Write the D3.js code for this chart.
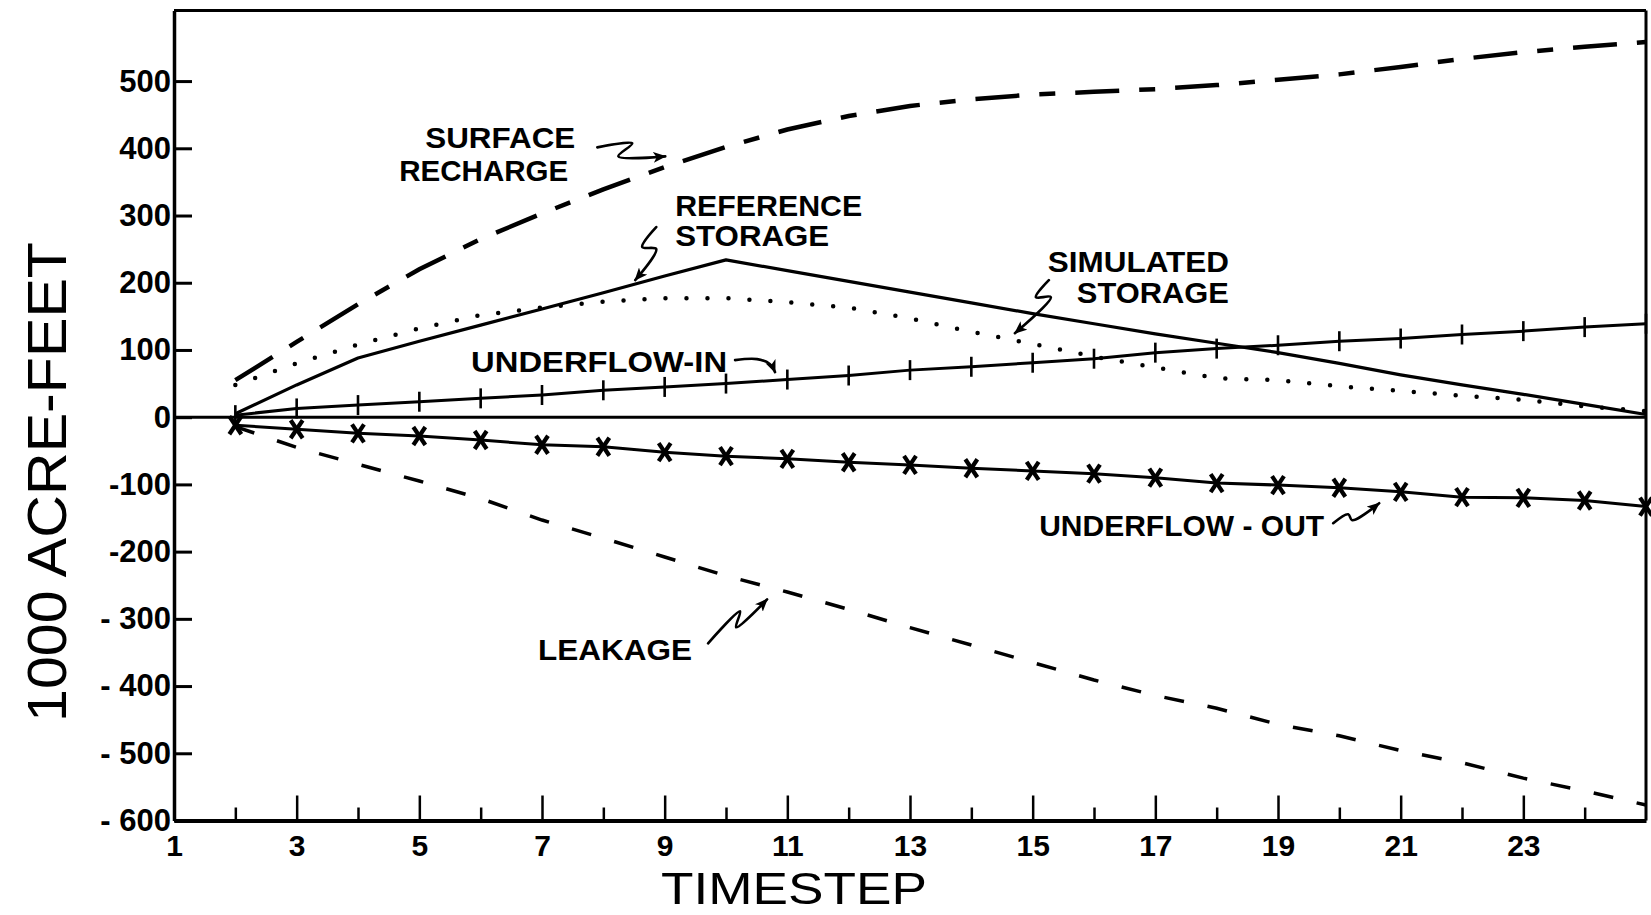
<!DOCTYPE html>
<html>
<head>
<meta charset="utf-8">
<script src="https://cdn.jsdelivr.net/npm/d3@7"></script>
<style>
html, body { margin: 0; padding: 0; background: #fff; }
svg { display: block; }
</style>
</head>
<body>
<svg id="chart" width="1651" height="915"></svg>
<script>
// ---------------- DATA ----------------
const timesteps        = [2,3,4,5,6,7,8,9,10,11,12,13,14,15,16,17,18,19,20,21,22,23,24,25];
const surfaceRecharge  = [55,112,168,220,265,303,339,372,402,428,448,463,473,480,484,488,494,502,510,521,533,543,551,558];
const referenceStorage = [5,48,88,113,137,161,185,210,234,218,202,186,170,154,139,124,110,96,80,63,48,34,19,4];
const simulatedStorage = [48,80,108,132,152,163,172,177,177,171,163,147,127,109,90,74,58,55,46,39,32,26,16,9];
const underflowIn      = [3,13,18,23,28,33,40,45,50,56,62,70,75,81,87,96,102,107,113,117,123,128,134,139];
const underflowOut     = [-12,-18,-24,-28,-34,-41,-44,-52,-58,-62,-67,-71,-76,-80,-84,-90,-98,-101,-105,-111,-119,-120,-124,-133];
const leakage          = [-14,-45,-70,-95,-121,-153,-180,-208,-236,-260,-286,-313,-339,-365,-391,-414,-433,-457,-474,-496,-514,-537,-556,-577];

const xMajorTicks  = [1,3,5,7,9,11,13,15,17,19,21,23];
const xMinorTicks  = [2,4,6,8,10,12,14,16,18,20,22,24];
const yTickValues  = [-600,-500,-400,-300,-200,-100,0,100,200,300,400,500];
const yTickLabels  = ["- 600","- 500","- 400","- 300","-200","-100","0","100","200","300","400","500"];

const xTitle = "TIMESTEP";
const yTitle = "1000 ACRE-FEET";

// annotation anchors: tip in data units (timestep, value); shapes/labels offset in px from tip
const annotations = [
  { tip: [9.01, 388], path: [[-68,-9],[-33,-13],[-47,0],[0,0]],
    labels: [{ text: "SURFACE", dx: -240, dy: -8, w: 150 }, { text: "RECHARGE", dx: -266, dy: 25, w: 169 }] },
  { tip: [8.52, 204], path: [[21,-53],[7,-33],[21,-31],[0,0]],
    labels: [{ text: "REFERENCE", dx: 40, dy: -64, w: 187 }, { text: "STORAGE", dx: 40, dy: -34, w: 154 }] },
  { tip: [14.71, 125], path: [[34,-53],[21,-36],[36,-36],[0,0]],
    labels: [{ text: "SIMULATED", dx: 33, dy: -61, w: 181 }, { text: "STORAGE", dx: 62, dy: -30, w: 152 }] },
  { tip: [10.8, 67], path: [[-40,-12],[-18,-13],[-5,-8],[0,0]],
    labels: [{ text: "UNDERFLOW-IN", dx: -304, dy: 0, w: 256 }] },
  { tip: [20.65, -128], path: [[-46,20],[-31,11],[-27,17],[0,0]],
    labels: [{ text: "UNDERFLOW - OUT", dx: -340, dy: 33, w: 285 }] },
  { tip: [10.67, -271], path: [[-59,44],[-27,12],[-31,28],[0,0]],
    labels: [{ text: "LEAKAGE", dx: -229, dy: 61, w: 154 }] }
];

// ---------------- CHART ----------------
const W = 1651, H = 915;
const ink = "#000";
const x = d3.scaleLinear().domain([1, 25]).range([174, 1646]);
const y = d3.scaleLinear().domain([-600, 605]).range([820.5, 10.5]);

const svg = d3.select("#chart");
svg.append("rect").attr("width", W).attr("height", H).attr("fill", "#fff");

const defs = svg.append("defs");
defs.append("marker")
  .attr("id", "ah").attr("viewBox", "0 0 12 10")
  .attr("refX", 11).attr("refY", 5)
  .attr("markerUnits", "userSpaceOnUse")
  .attr("markerWidth", 13).attr("markerHeight", 11)
  .attr("orient", "auto")
  .append("path").attr("d", "M0,0 L12,5 L0,10 L3,5 z").attr("fill", ink);

// frame: top & right
svg.append("line").attr("x1", x(1)).attr("x2", x(25)).attr("y1", y(605)).attr("y2", y(605))
  .attr("stroke", ink).attr("stroke-width", 3);
svg.append("line").attr("x1", x(25)).attr("x2", x(25)).attr("y1", y(605)).attr("y2", y(-600))
  .attr("stroke", ink).attr("stroke-width", 3);

const tickFont = "'Liberation Sans', Arial, sans-serif";

// left axis
const gy = svg.append("g").attr("transform", `translate(${x(1)},0)`)
  .call(d3.axisLeft(y).tickValues(yTickValues).tickSizeInner(-18).tickSizeOuter(0).tickPadding(3)
    .tickFormat((d, i) => yTickLabels[i]));
gy.select(".domain").attr("stroke", ink).attr("stroke-width", 3.5);
gy.selectAll(".tick line").attr("stroke", ink).attr("stroke-width", 3);
gy.selectAll(".tick text").attr("fill", ink).style("font-family", tickFont)
  .style("font-size", "31px").style("font-weight", "bold");

// bottom axis major
const gx = svg.append("g").attr("transform", `translate(0,${y(-600)})`)
  .call(d3.axisBottom(x).tickValues(xMajorTicks).tickSizeInner(-25).tickSizeOuter(0).tickPadding(14)
    .tickFormat(d3.format("d")));
gx.select(".domain").attr("stroke", ink).attr("stroke-width", 4);
gx.selectAll(".tick line").attr("stroke", ink).attr("stroke-width", 2.5);
gx.selectAll(".tick text").attr("fill", ink).style("font-family", tickFont)
  .style("font-size", "30px").style("font-weight", "bold");

// bottom axis minor
const gxm = svg.append("g").attr("transform", `translate(0,${y(-600)})`)
  .call(d3.axisBottom(x).tickValues(xMinorTicks).tickSizeInner(-13).tickSizeOuter(0).tickFormat(""));
gxm.select(".domain").remove();
gxm.selectAll(".tick line").attr("stroke", ink).attr("stroke-width", 2.5);

// zero line
svg.append("line").attr("x1", x(1)).attr("x2", x(25)).attr("y1", y(0)).attr("y2", y(0))
  .attr("stroke", ink).attr("stroke-width", 3);

// series
const line = d3.line().x((d, i) => x(timesteps[i])).y(d => y(d));
const plot = svg.append("g").attr("fill", "none").attr("stroke", ink);

plot.append("path").attr("d", line(surfaceRecharge))
  .attr("stroke-width", 4.5).attr("stroke-dasharray", "44 20 16 20");
plot.append("path").attr("d", line(simulatedStorage))
  .attr("stroke-width", 4.5).attr("stroke-linecap", "round").attr("stroke-dasharray", "0 21");
plot.append("path").attr("d", line(referenceStorage)).attr("stroke-width", 3.2).attr("stroke-linejoin", "round");
plot.append("path").attr("d", line(underflowIn)).attr("stroke-width", 3);
plot.append("path").attr("d", line(underflowOut)).attr("stroke-width", 3);
plot.append("path").attr("d", line(leakage))
  .attr("stroke-width", 3.5).attr("stroke-dasharray", "20 24");

// underflow-in tick markers
plot.selectAll(".uin").data(underflowIn).join("line").attr("class", "uin")
  .attr("x1", (d, i) => x(timesteps[i])).attr("x2", (d, i) => x(timesteps[i]))
  .attr("y1", d => y(d) - 10).attr("y2", d => y(d) + 10)
  .attr("stroke-width", 2.6);

// underflow-out X markers
const xm = plot.selectAll(".uout").data(underflowOut).join("g").attr("class", "uout")
  .attr("transform", (d, i) => `translate(${x(timesteps[i])},${y(d)})`);
xm.append("line").attr("x1", -6).attr("y1", -9).attr("x2", 6).attr("y2", 9).attr("stroke-width", 4.2);
xm.append("line").attr("x1", 6).attr("y1", -9).attr("x2", -6).attr("y2", 9).attr("stroke-width", 4.2);

// annotations
const labFont = "'Liberation Sans', Arial, sans-serif";
const squiggle = d3.line().curve(d3.curveCatmullRom.alpha(0.5));
annotations.forEach(a => {
  const tx = x(a.tip[0]), ty = y(a.tip[1]);
  svg.append("path")
    .attr("d", squiggle(a.path.map(p => [tx + p[0], ty + p[1]])))
    .attr("fill", "none").attr("stroke", ink).attr("stroke-width", 2.6)
    .attr("stroke-linecap", "round").attr("marker-end", "url(#ah)");
  a.labels.forEach(l => {
    svg.append("text").attr("x", tx + l.dx).attr("y", ty + l.dy)
      .attr("textLength", l.w).attr("lengthAdjust", "spacingAndGlyphs")
      .attr("fill", ink).style("font-family", labFont).style("font-size", "30px")
      .style("font-weight", "bold").text(l.text);
  });
});

// axis titles
svg.append("text").attr("transform", `translate(66,482) rotate(-90)`)
  .attr("text-anchor", "middle").attr("textLength", 480).attr("lengthAdjust", "spacingAndGlyphs")
  .attr("fill", ink).style("font-family", labFont).style("font-size", "56px").text(yTitle);
svg.append("text").attr("x", 794).attr("y", 904)
  .attr("text-anchor", "middle").attr("textLength", 266).attr("lengthAdjust", "spacingAndGlyphs")
  .attr("fill", ink).style("font-family", labFont).style("font-size", "45px").text(xTitle);
</script>
</body>
</html>
